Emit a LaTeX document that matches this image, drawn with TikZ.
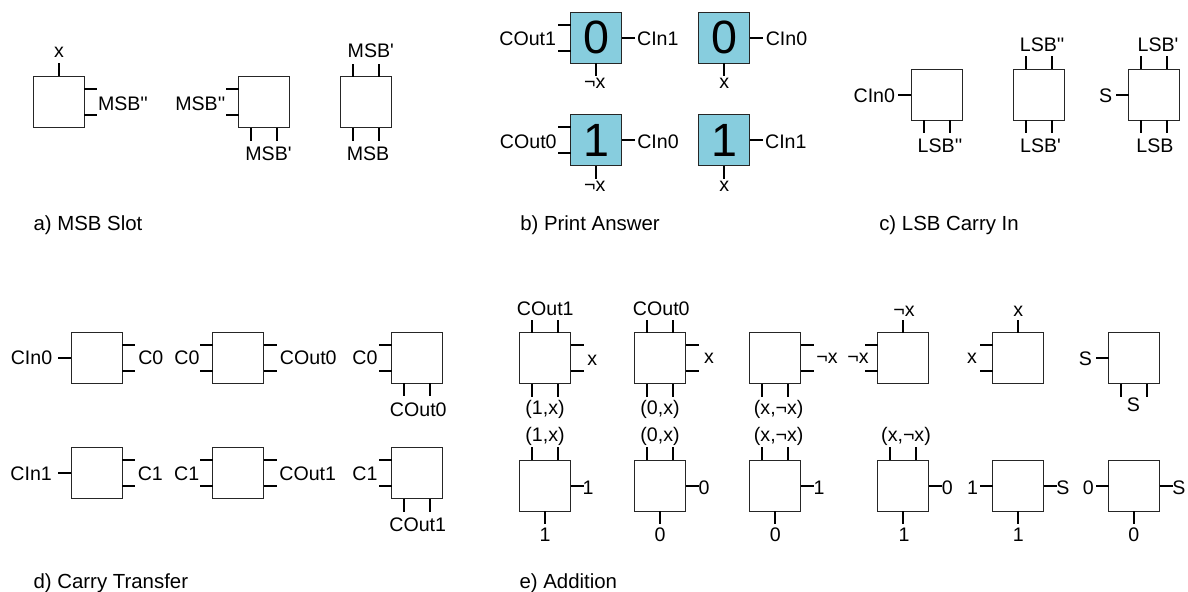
\documentclass[tikz,border=0pt]{standalone}
\usepackage{fontspec}
\newfontfamily\labelfont{Liberation Sans}
\definecolor{answerblue}{HTML}{87CDDE}
\tikzset{
    slot/.style={draw=black!85,line width=0.9pt,fill=white,minimum size=38.25pt,inner sep=0pt,outer sep=0pt},
    answer/.style={fill=answerblue,font=\labelfont\fontsize{35}{35}\selectfont},
    pin/.style={line width=1.35pt,black},
    lbl/.style={anchor=base,inner sep=0pt,font=\labelfont\fontsize{14.7}{16}\selectfont},
    caption/.style={anchor=base west,inner sep=0pt,font=\labelfont\fontsize{15.3}{17}\selectfont}
}
\begin{document}
\begin{tikzpicture}[x=0.75pt,y=-0.75pt]
    \useasboundingbox (0,0) rectangle (1188,592);
    % boxes
    \foreach \n/\x/\y in {a1/58.6/102,a2/264/102,a3/366.3/102.3,
        c1/936.8/94.7,c2/1039.3/94.7,c3/1154.3/94.8,
        d1/96.8/357.7,d2/238/357.7,d3/417.3/357.7,d4/96.8/473,d5/238/473,d6/417.3/473,
        e1/545/358,e2/660/358,e3/775.3/358,e4/903.3/358,e5/1018.3/358,e6/1134/358,
        e7/545/485.8,e8/660/485.8,e9/775.3/485.8,e10/903.3/485.8,e11/1018.3/485.8,e12/1134/485.8} {
        \node[slot] (\n) at (\x,\y) {};
    }
    \foreach \n/\x/\y/\v in {b1/596.2/37.8/0,b2/724.3/37.8/0,b3/596.2/140.3/1,b4/724.3/140.3/1} {
        \node[slot,answer] (\n) at (\x,\y) {\v};
    }
    % one pin in the middle of a side
    \foreach \a/\dx/\dy/\boxes in {
        north/0/-13/{a1,e4,e5},
        south/0/13/{b1,b2,b3,b4,e7,e8,e9,e10,e11,e12},
        west/-13/0/{c1,c3,d1,d4,e6,e11,e12},
        east/13/0/{b1,b2,b3,b4,e7,e8,e9,e10,e11,e12}} {
        \foreach \n in \boxes {
            \draw[pin] (\n.\a) -- ++(\dx,\dy) coordinate (\n\a);
        }
    }
    % two pins on a side
    \foreach \a/\dx/\dy/\boxes in {
        north/0/-13/{a3,c2,c3,e1,e2,e7,e8,e9,e10},
        south/0/13/{a2,a3,c1,c2,c3,d3,d6,e1,e2,e3,e6}} {
        \foreach \n in \boxes {
            \draw[pin] ([xshift=-9.75pt]\n.\a) -- ++(\dx,\dy) coordinate (\n\a1);
            \draw[pin] ([xshift=9.75pt]\n.\a) -- ++(\dx,\dy) coordinate (\n\a2);
        }
    }
    \foreach \a/\dx/\dy/\boxes in {
        west/-13/0/{a2,b1,b3,d2,d3,d5,d6,e4,e5},
        east/13/0/{a1,d1,d2,d4,d5,e1,e2,e3}} {
        \foreach \n in \boxes {
            \draw[pin] ([yshift=9.75pt]\n.\a) -- ++(\dx,\dy) coordinate (\n\a1);
            \draw[pin] ([yshift=-9.75pt]\n.\a) -- ++(\dx,\dy) coordinate (\n\a2);
        }
    }
    % labels, by baseline
    \foreach \n/\x/\y/\txt in {
        a1t/59/57.7/x,a1r/123/110/MSB'',a2l/200.3/110/MSB'',a2b/268.5/160.7/MSB',
        a3t/370.8/57.7/MSB',a3b/368/160.7/MSB,
        b1l/527.7/45.7/COut1,b1r/657.8/45.7/CIn1,b1b/594.7/88.3/¬x,
        b2r/786.5/45.7/CIn0,b2b/724.3/88.3/x,
        b3l/528.3/148.3/COut0,b3r/658/148.3/CIn0,b3b/594.7/191.7/¬x,
        b4r/785.8/148.3/CIn1,b4b/724.3/191.7/x,
        c1l/874.3/102.3/CIn0,c1b/940/152.7/LSB'',
        c2t/1042.2/51.7/LSB'',c2b/1040.5/152.7/LSB',
        c3l/1105.7/102.3/S,c3t/1158/51.7/LSB',c3b/1155/152.7/LSB,
        d1l/31.5/364/CIn0,d1r/150.8/364/C0,d2l/187/364/C0,d2r/308.3/364/COut0,
        d3l/365/364/C0,d3b/418.3/416.7/COut0,
        d4l/31.2/480/CIn1,d4r/150.3/480/C1,d5l/186.7/480/C1,d5r/307.7/480/COut1,
        d6l/365/480/C1,d6b/417.7/531.7/COut1,
        e1t/545.3/315/COut1,e1r/592.3/365/x,e1b/545/414/{(1,x)},
        e2t/661.3/315/COut0,e2r/709/363/x,e2b/660/414/{(0,x)},
        e3r/827/363/¬x,e3b/778.7/414/{(x,¬x)},
        e4t/904/316.7/¬x,e4l/858/363/¬x,e5t/1018.3/316.7/x,e5l/972/363/x,
        e6l/1085.3/365.7/S,e6b/1133.3/411.7/S,
        e7t/545/441.7/{(1,x)},e7r/588/494/1,e7b/545/541.7/1,
        e8t/660/441.7/{(0,x)},e8r/704/494/0,e8b/660/541.7/0,
        e9t/778.7/441.7/{(x,¬x)},e9r/819/494/1,e9b/775.3/541.7/0,
        e10t/906/441.7/{(x,¬x)},e10r/947.3/494/0,e10b/904/541.7/1,
        e11l/972.5/494/1,e11r/1063/494/S,e11b/1018.3/541.7/1,
        e12l/1088.3/494/0,e12r/1179/494/S,e12b/1133.7/541.7/0} {
        \node[lbl] (\n) at (\x,\y) {\txt};
    }
    % captions
    \foreach \n/\x/\y/\txt in {capa/33.3/230/a) MSB Slot,capb/520/230/b) Print Answer,capc/879/230/c) LSB Carry In,
        capd/33.3/588/d) Carry Transfer,cape/519.3/588/e) Addition} {
        \node[caption] (\n) at (\x,\y) {\txt};
    }
\end{tikzpicture}
\end{document}
